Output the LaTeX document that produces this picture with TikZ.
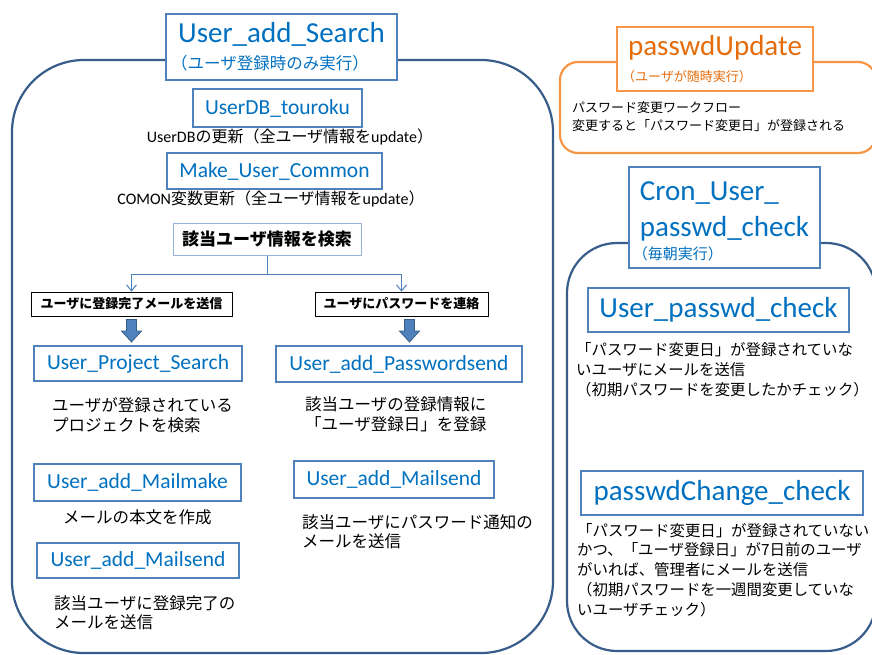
\documentclass[tikz,border=0pt]{standalone}
\usepackage{fontspec}
\setmainfont{Carlito}
\newfontfamily\jp{Noto Sans CJK JP}
\newfontfamily\latfont{Carlito}
\usetikzlibrary{arrows.meta,calc}

\definecolor{textblue}{HTML}{0070C0}
\definecolor{boxblue}{HTML}{4F81BD}
\definecolor{frameblue}{HTML}{385D8A}
\definecolor{paleblue}{HTML}{95B3D7}
\definecolor{orangeline}{HTML}{F79646}
\definecolor{orangetext}{HTML}{E46C0A}

\tikzset{
  prog/.style={draw=boxblue, line width=2pt, fill=white, text=textblue, inner sep=0pt,
    font=\fontsize{21.5}{24}\selectfont},
  bigprog/.style={prog, align=left, font=\fontsize{29}{26}\selectfont},
  note/.style={font=\jp\fontsize{16.5}{19.5}\selectfont, align=left, anchor=west, inner sep=0pt},
  rnote/.style={note, font=\jp\fontsize{15.4}{19.8}\selectfont},
  tag/.style={draw=black, line width=0.8pt, fill=white, inner sep=0pt,
    font=\jp\bfseries\fontsize{13}{15}\selectfont},
  groupframe/.style={draw=frameblue, line width=2.2pt, rounded corners=#1},
  flow/.style={draw=boxblue, line width=1pt, -{Straight Barb[length=6pt,width=10pt]}},
  blockarrow/.style={fill=boxblue, draw=frameblue, line width=0.8pt},
}

\begin{document}
\begin{tikzpicture}[x=1pt, y=-1pt]
\useasboundingbox (0,0) rectangle (872,655);

% frames
\draw[groupframe=72] (12,60) rectangle (553,653);
\draw[groupframe=18, draw=orangeline] (560,62) rectangle (876,153);
\draw[groupframe=50] (567,243) rectangle (876,651);

% User_add_Search
\node[bigprog, minimum width=231pt, minimum height=66pt] (addsearch) at (281.5,47)
  {User\_add\_Search\\[1pt]{\jp\fontsize{16.5}{18}\selectfont \hspace*{-7pt}（ユーザ登録時のみ実行）}};

\node[prog, minimum width=169pt, minimum height=38pt] (dbtouroku) at (277.5,108) {UserDB\_touroku};
\node[note, anchor=center, font=\jp\fontsize{16}{19}\selectfont] (dbnote) at (290,137)
  {{\latfont UserDB}の更新（全ユーザ情報を{\latfont update}）};

\node[prog, minimum width=215pt, minimum height=36pt] (common) at (274.5,171) {Make\_User\_Common};
\node[note, anchor=center, font=\jp\fontsize{16}{19}\selectfont] (commonnote) at (271,199)
  {{\latfont COMON}変数更新（全ユーザ情報を{\latfont update}）};

\node[draw=paleblue, line width=1pt, inner sep=0pt, minimum width=188pt, minimum height=32pt,
  font=\jp\bfseries\fontsize{17}{19}\selectfont] (kensaku) at (267,239) {該当ユーザ情報を検索};

\node[tag, minimum width=201pt, minimum height=24pt] (tagmail) at (131.5,304) {ユーザに登録完了メールを送信};
\node[tag, minimum width=173pt, minimum height=24pt] (tagpass) at (401.5,304) {ユーザにパスワードを連絡};

% split to both branches
\coordinate (split) at (267,274);
\draw[boxblue, line width=1pt] (kensaku.south) -- (split);
\draw[flow] (split) -| (tagmail.north);
\draw[flow] (split) -| (tagpass.north);

% left branch
\node[prog, minimum width=208pt, minimum height=35pt] (psearch) at (138,363.5) {User\_Project\_Search};
\node[note] (psnote) at (52,415) {ユーザが登録されている\\プロジェクトを検索};
\node[prog, minimum width=207pt, minimum height=37pt] (mailmake) at (137.5,482.5) {User\_add\_Mailmake};
\node[note] (mmnote) at (63,517) {メールの本文を作成};
\node[prog, minimum width=202pt, minimum height=35pt] (mailsend) at (138,560.5) {User\_add\_Mailsend};
\node[note] (msnote) at (54,612.5) {該当ユーザに登録完了の\\メールを送信};

% right branch
\node[prog, minimum width=246pt, minimum height=36pt] (pwsend) at (399,364) {User\_add\_Passwordsend};
\node[note] (pwnote) at (305,414.5) {該当ユーザの登録情報に\\「ユーザ登録日」を登録};
\node[prog, minimum width=200pt, minimum height=37pt] (pwmail) at (394,479.5) {User\_add\_Mailsend};
\node[note] (pwmailnote) at (302,531.5) {該当ユーザにパスワード通知の\\メールを送信};

% block arrows
\foreach \s/\t/\dx in {tagmail/psearch/0, tagpass/pwsend/8}{
  \coordinate (top) at ($(\s.south)+(\dx,3)$);
  \coordinate (tip) at ($(\s.south |- \t.north)+(\dx,-3)$);
  \draw[blockarrow] ($(top)+(-5,0)$) -- ($(top)+(5,0)$) -- ($(tip)+(5,-11)$) -- ($(tip)+(10,-11)$)
    -- (tip) -- ($(tip)+(-10,-11)$) -- ($(tip)+(-5,-11)$) -- cycle;
}

% passwdUpdate
\node[bigprog, draw=orangeline, text=orangetext, minimum width=196pt, minimum height=64pt] (pupdate) at (715,59)
  {passwdUpdate\\{\jp\fontsize{13}{15}\selectfont \hspace*{-6pt}（ユーザが随時実行）}};
\node[note, font=\jp\fontsize{13}{18}\selectfont] (punote) at (572,117)
  {パスワード変更ワークフロー\\変更すると「パスワード変更日」が登録される};

% Cron_User_passwd_check
\node[bigprog, minimum width=191pt, minimum height=101pt] (cron) at (724.5,217.5)
  {\rule{0pt}{26pt}Cron\_User\_\\[10pt]passwd\_check\\[-3pt]{\jp\fontsize{15}{17}\selectfont \hspace*{-7pt}（毎朝実行）}};

\node[bigprog, minimum width=261pt, minimum height=44pt] (upcheck) at (718.5,310) {User\_passwd\_check};
\node[rnote] (upnote) at (576,370)
  {「パスワード変更日」が登録されていな\\いユーザにメールを送信\\（初期パスワードを変更したかチェック）};

\node[bigprog, minimum width=282pt, minimum height=44pt] (pccheck) at (722,493) {passwdChange\_check};
\node[rnote] (pcnote) at (577,570)
  {「パスワード変更日」が登録されていない\\かつ、「ユーザ登録日」が7日前のユーザ\\がいれば、管理者にメールを送信\\（初期パスワードを一週間変更していな\\いユーザチェック）};
\end{tikzpicture}
\end{document}
